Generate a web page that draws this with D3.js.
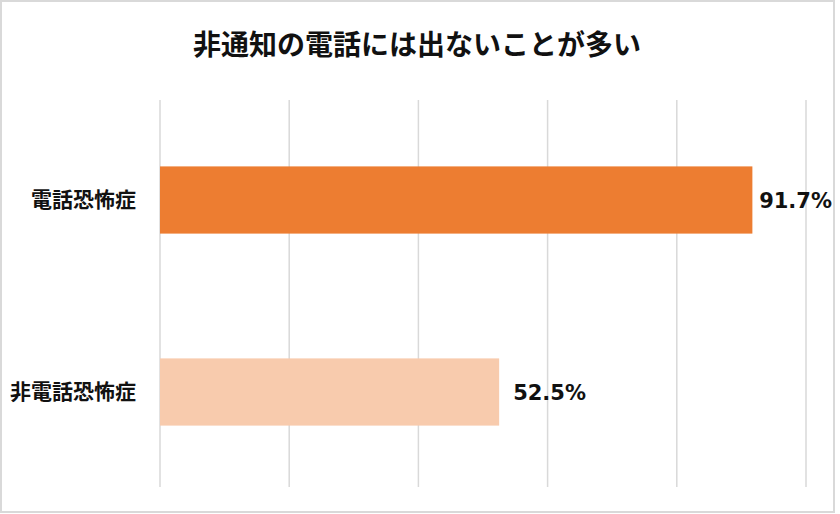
<!DOCTYPE html>
<html>
<head>
<meta charset="utf-8">
<script src="https://cdn.jsdelivr.net/npm/d3@7"></script>
<style>
	body { margin: 0; background: #fff; }
	svg text { font-family: "Noto Sans CJK JP", "Noto Sans", sans-serif; fill: #111; }
	svg text.value { font-family: "DejaVu Sans", "Noto Sans CJK JP", sans-serif; }
</style>
</head>
<body>
<div id="bar_chart"></div>
<script>
var title = "非通知の電話には出ないことが多い";
var categories = ["電話恐怖症", "非電話恐怖症"];
var values = [91.7, 52.5];
var barColors = ["#ed7d31", "#f8cbad"];
var gridTicks = [0, 20, 40, 60, 80, 100];

var width = 840,
	height = 514,
	plotLeft = 160,
	plotRight = 806,
	gridTop = 100,
	gridBottom = 487,
	labelLimit = 832;

var svg = d3.select("#bar_chart")
	.append("svg")
	.attr("width", width)
	.attr("height", height);

// outer frame
svg.append("rect")
	.attr("x", 1)
	.attr("y", 1)
	.attr("width", 833)
	.attr("height", 511)
	.attr("fill", "#fff")
	.attr("stroke", "#d9d9d9")
	.attr("stroke-width", 2);

var x = d3.scaleLinear()
	.domain([0, 100])
	.range([plotLeft, plotRight]);

var y = d3.scaleBand()
	.domain(categories)
	.range([104, 488])
	.paddingInner(0.65)
	.paddingOuter(0.325);

// vertical grid lines
svg.append("g")
	.selectAll("line")
	.data(gridTicks)
	.enter().append("line")
	.attr("x1", function(d) { return x(d); })
	.attr("x2", function(d) { return x(d); })
	.attr("y1", gridTop)
	.attr("y2", gridBottom)
	.attr("stroke", "#d9d9d9")
	.attr("stroke-width", 1.5);

// bars
svg.append("g")
	.selectAll("rect")
	.data(values)
	.enter().append("rect")
	.attr("x", x(0))
	.attr("y", function(d, i) { return y(categories[i]); })
	.attr("width", function(d) { return x(d) - x(0); })
	.attr("height", y.bandwidth())
	.attr("fill", function(d, i) { return barColors[i]; });

// category labels
var yAxis = d3.axisLeft(y).tickSize(0).tickPadding(24);
var yAxisG = svg.append("g")
	.attr("transform", "translate(" + plotLeft + ",0)")
	.call(yAxis);
yAxisG.select(".domain").remove();
yAxisG.selectAll("text")
	.style("font-size", "21px")
	.style("font-weight", "bold")
	.attr("dy", "0.35em");

// value labels (pulled back inside the frame when they would overflow)
svg.append("g")
	.selectAll("text")
	.data(values)
	.enter().append("text")
	.attr("class", "value")
	.attr("y", function(d, i) { return y(categories[i]) + y.bandwidth() / 2; })
	.attr("dy", "0.36em")
	.style("font-size", "21px")
	.style("font-weight", "bold")
	.text(function(d) { return d.toFixed(1) + "%"; })
	.attr("x", function(d) {
		var w = this.getComputedTextLength();
		return Math.min(x(d) + 14, labelLimit - w);
	});

// title
svg.append("text")
	.attr("x", 417)
	.attr("y", 45)
	.attr("text-anchor", "middle")
	.attr("dy", "0.35em")
	.style("font-size", "28px")
	.style("font-weight", "bold")
	.text(title);
</script>
</body>
</html>
